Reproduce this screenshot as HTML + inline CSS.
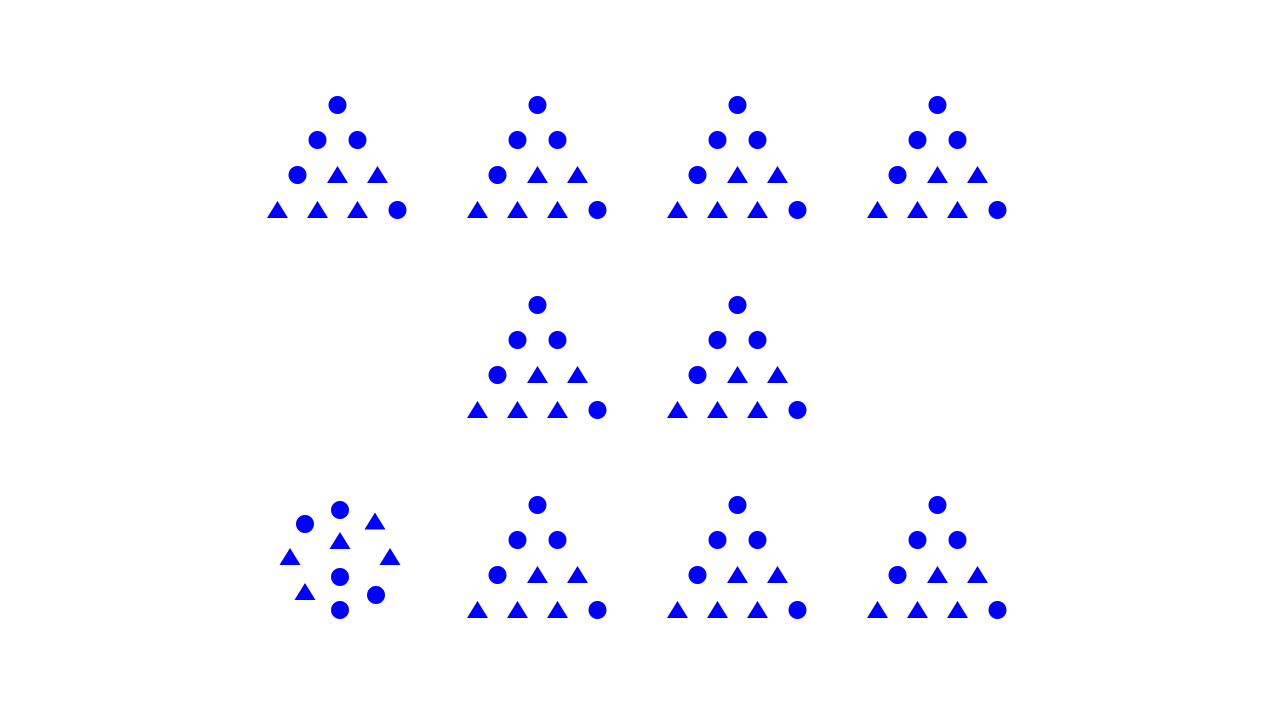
<!DOCTYPE html>
<html><head><meta charset="utf-8"><style>html,body{margin:0;padding:0;background:#fff;}svg{display:block}</style></head>
<body>
<svg id="c" width="1280" height="720" viewBox="0 0 1280 720"></svg>
<script>
const groupX = [337.5,537.5,737.5,937.5,537.5,737.5,537.5,737.5,937.5];
const groupY = [105,105,105,105,305,305,505,505,505];
// pyramid pattern: c=circle, t=triangle, rows top to bottom
const pattern = ["c","cc","ctt","tttc"];
const oddShapes = ["c","c","c","c","c","t","t","t","t","t"];
const oddX = [340,305,340,376,340,375,340,290,390,305];
const oddY = [510,524,577,595,610,521.5,541,557,557,592];
const NS="http://www.w3.org/2000/svg";
const svg=document.getElementById('c');
function draw(kind,x,y){
  let el;
  if(kind==='c'){el=document.createElementNS(NS,'circle');el.setAttribute('cx',x);el.setAttribute('cy',y);el.setAttribute('r',9);}
  else{el=document.createElementNS(NS,'polygon');el.setAttribute('points',`${x},${y-9} ${x-10.5},${y+8} ${x+10.5},${y+8}`);}
  el.setAttribute('fill','#0000ff');
  
  
  svg.appendChild(el);
}
for(let g=0;g<groupX.length;g++){
  pattern.forEach((row,k)=>{
    for(let j=0;j<row.length;j++) draw(row[j],groupX[g]-20*k+40*j,groupY[g]+35*k);
  });
}
for(let i=0;i<oddShapes.length;i++) draw(oddShapes[i],oddX[i],oddY[i]);
</script>
</body></html>
